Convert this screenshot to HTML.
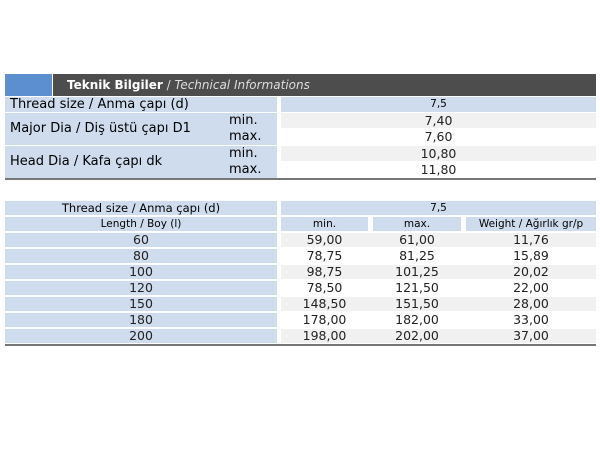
<!DOCTYPE html><html><head><style>
body{margin:0;width:600px;height:450px;background:#fff;font-family:"DejaVu Sans","Liberation Sans",sans-serif;position:relative;overflow:hidden}
div{position:absolute;box-sizing:border-box;white-space:nowrap}
.b{background:#cfdcee}.g{background:#f1f1f1}
.c{text-align:center}
.t{font-size:12.5px;color:#222}
</style></head><body>
<div style="left:5px;top:74px;width:47px;height:22px;background:#5b8fd0"></div>
<div style="left:53px;top:74px;width:543px;height:22px;background:#4d4d4d;color:#fff;font-size:12px;line-height:22px;padding-left:14px"><b>Teknik Bilgiler</b> <span style="color:#ddd">/ <i>Technical Informations</i></span></div>

<div class="b" style="left:5px;top:97px;width:272px;height:15px;font-size:13px;line-height:15px;padding-left:5px">Thread size / Anma çapı (d)</div>
<div class="b c" style="left:281px;top:97px;width:315px;height:15px;font-size:10.5px;line-height:15px">7,5</div>

<div class="b" style="left:5px;top:113px;width:272px;height:32px;font-size:13px;line-height:32px;padding-left:5px">Major Dia / Diş üstü çapı D1</div>
<div style="left:229px;top:113px;font-size:13px;line-height:16px">min.<br>max.</div>
<div class="g t c" style="left:281px;top:113px;width:315px;height:15px;line-height:15px">7,40</div>
<div class="t c" style="left:281px;top:129px;width:315px;height:15px;line-height:15px">7,60</div>

<div class="b" style="left:5px;top:146px;width:272px;height:32px;font-size:13px;line-height:32px;padding-left:5px">Head Dia / Kafa çapı dk</div>
<div style="left:229px;top:146px;font-size:13px;line-height:16px">min.<br>max.</div>
<div class="g t c" style="left:281px;top:146px;width:315px;height:15px;line-height:15px">10,80</div>
<div class="t c" style="left:281px;top:162px;width:315px;height:15px;line-height:15px">11,80</div>
<div style="left:5px;top:178px;width:591px;height:2px;background:#777"></div>

<div class="b c" style="left:5px;top:201px;width:272px;height:14px;font-size:11.5px;line-height:14px">Thread size / Anma çapı (d)</div>
<div class="b c" style="left:281px;top:201px;width:315px;height:14px;font-size:10.5px;line-height:14px">7,5</div>
<div class="b c" style="left:5px;top:217px;width:272px;height:14px;font-size:10.5px;line-height:14px">Length / Boy (l)</div>
<div class="b c" style="left:281px;top:217px;width:87px;height:14px;font-size:10.5px;line-height:14px">min.</div>
<div class="b c" style="left:373px;top:217px;width:88px;height:14px;font-size:10.5px;line-height:14px">max.</div>
<div class="b c" style="left:466px;top:217px;width:130px;height:14px;font-size:10.5px;line-height:14px">Weight / Ağırlık gr/p</div>

<div style="left:0;top:233px;width:600px;height:120px">
<div class="b t c" style="left:5px;top:0;width:272px;height:14px;line-height:14px">60</div><div class="g" style="left:281px;top:0;width:315px;height:14px"></div>
<div class="t c" style="left:281px;top:0;width:87px;line-height:14px">59,00</div><div class="t c" style="left:373px;top:0;width:88px;line-height:14px">61,00</div><div class="t c" style="left:466px;top:0;width:130px;line-height:14px">11,76</div>
<div class="b t c" style="left:5px;top:16px;width:272px;height:14px;line-height:14px">80</div>
<div class="t c" style="left:281px;top:16px;width:87px;line-height:14px">78,75</div><div class="t c" style="left:373px;top:16px;width:88px;line-height:14px">81,25</div><div class="t c" style="left:466px;top:16px;width:130px;line-height:14px">15,89</div>
<div class="b t c" style="left:5px;top:32px;width:272px;height:14px;line-height:14px">100</div><div class="g" style="left:281px;top:32px;width:315px;height:14px"></div>
<div class="t c" style="left:281px;top:32px;width:87px;line-height:14px">98,75</div><div class="t c" style="left:373px;top:32px;width:88px;line-height:14px">101,25</div><div class="t c" style="left:466px;top:32px;width:130px;line-height:14px">20,02</div>
<div class="b t c" style="left:5px;top:48px;width:272px;height:14px;line-height:14px">120</div>
<div class="t c" style="left:281px;top:48px;width:87px;line-height:14px">78,50</div><div class="t c" style="left:373px;top:48px;width:88px;line-height:14px">121,50</div><div class="t c" style="left:466px;top:48px;width:130px;line-height:14px">22,00</div>
<div class="b t c" style="left:5px;top:64px;width:272px;height:14px;line-height:14px">150</div><div class="g" style="left:281px;top:64px;width:315px;height:14px"></div>
<div class="t c" style="left:281px;top:64px;width:87px;line-height:14px">148,50</div><div class="t c" style="left:373px;top:64px;width:88px;line-height:14px">151,50</div><div class="t c" style="left:466px;top:64px;width:130px;line-height:14px">28,00</div>
<div class="b t c" style="left:5px;top:80px;width:272px;height:14px;line-height:14px">180</div>
<div class="t c" style="left:281px;top:80px;width:87px;line-height:14px">178,00</div><div class="t c" style="left:373px;top:80px;width:88px;line-height:14px">182,00</div><div class="t c" style="left:466px;top:80px;width:130px;line-height:14px">33,00</div>
<div class="b t c" style="left:5px;top:96px;width:272px;height:14px;line-height:14px">200</div><div class="g" style="left:281px;top:96px;width:315px;height:14px"></div>
<div class="t c" style="left:281px;top:96px;width:87px;line-height:14px">198,00</div><div class="t c" style="left:373px;top:96px;width:88px;line-height:14px">202,00</div><div class="t c" style="left:466px;top:96px;width:130px;line-height:14px">37,00</div>
</div>
<div style="left:5px;top:344px;width:591px;height:2px;background:#777"></div>
</body></html>
